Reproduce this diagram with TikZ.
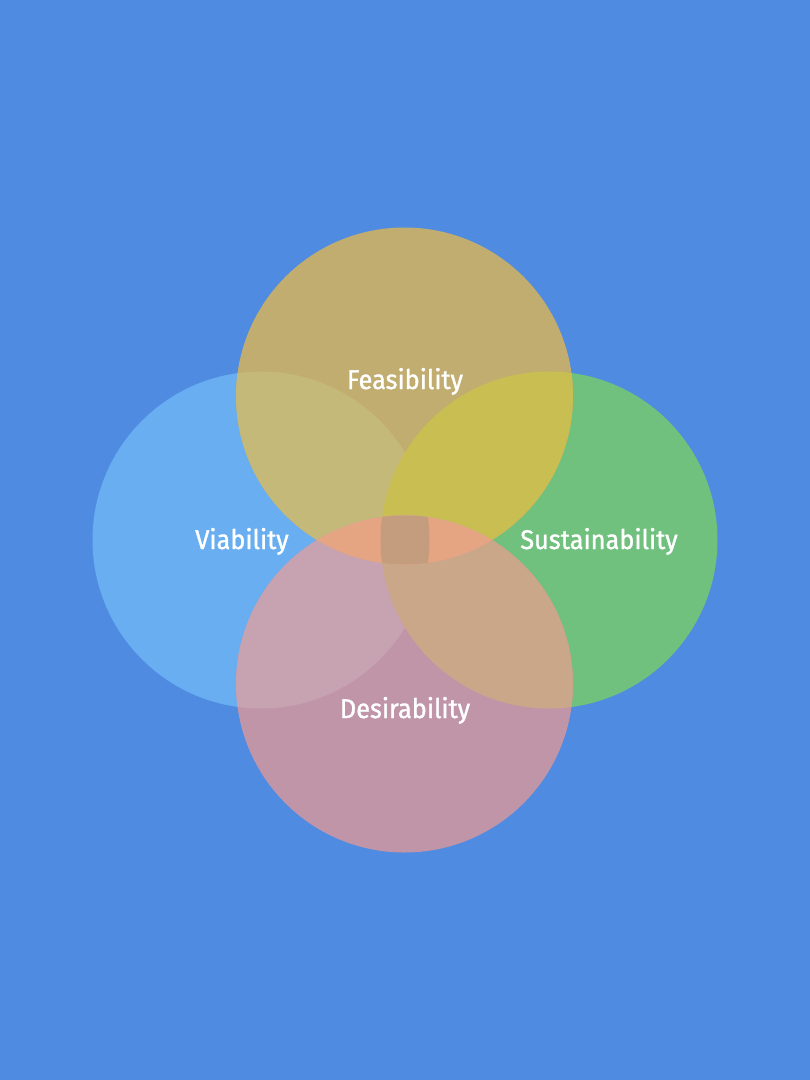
\documentclass[tikz,border=0pt]{standalone}
\usepackage{fontspec}
\setmainfont{Fira Sans}[FakeBold=1.2,FakeStretch=0.94]
\definecolor{bg}{HTML}{508BE2}
\definecolor{cL}{HTML}{69AEF0}
\definecolor{cR}{HTML}{70C07E}
\definecolor{cT}{HTML}{C0AD6F}
\definecolor{cB}{HTML}{C095A8}
\definecolor{cTL}{HTML}{C5B97A}
\definecolor{cTR}{HTML}{C9BE52}
\definecolor{cBL}{HTML}{C7A2B0}
\definecolor{cBR}{HTML}{CBA78A}
\definecolor{cTB}{HTML}{E5A583}
\definecolor{cAll}{HTML}{C39D7E}
\tikzset{lbl/.style={text=white, font=\fontsize{27}{30}\selectfont, anchor=base, inner sep=0pt}}
\begin{document}
\begin{tikzpicture}[x=1pt,y=-1pt]
\fill[bg] (0,0) rectangle (810,1080);
\useasboundingbox (0,0) rectangle (810,1080);
\def\CL{(261,540) circle[radius=168.5pt]}
\def\CR{(549,540) circle[radius=168.5pt]}
\def\CT{(404.5,396) circle[radius=168.5pt]}
\def\CB{(404.5,684) circle[radius=168.5pt]}
\fill[cL] \CL;
\fill[cR] \CR;
\fill[cT] \CT;
\fill[cB] \CB;
\begin{scope}\clip \CT; \fill[cTL] \CL; \fill[cTR] \CR; \end{scope}
\begin{scope}\clip \CB; \fill[cBL] \CL; \fill[cBR] \CR; \end{scope}
\begin{scope}\clip \CT; \fill[cTB] \CB; \end{scope}
\begin{scope}\clip \CT; \clip \CB; \clip \CL; \fill[cAll] \CR; \end{scope}
\node[lbl] (feas) at (405,389) {Feasibility};
\node[lbl] (viab) at (242,549) {Viability};
\node[lbl] (sust) at (599,549) {Sustainability};
\node[lbl] (desi) at (405,718) {Desirability};
\end{tikzpicture}
\end{document}
